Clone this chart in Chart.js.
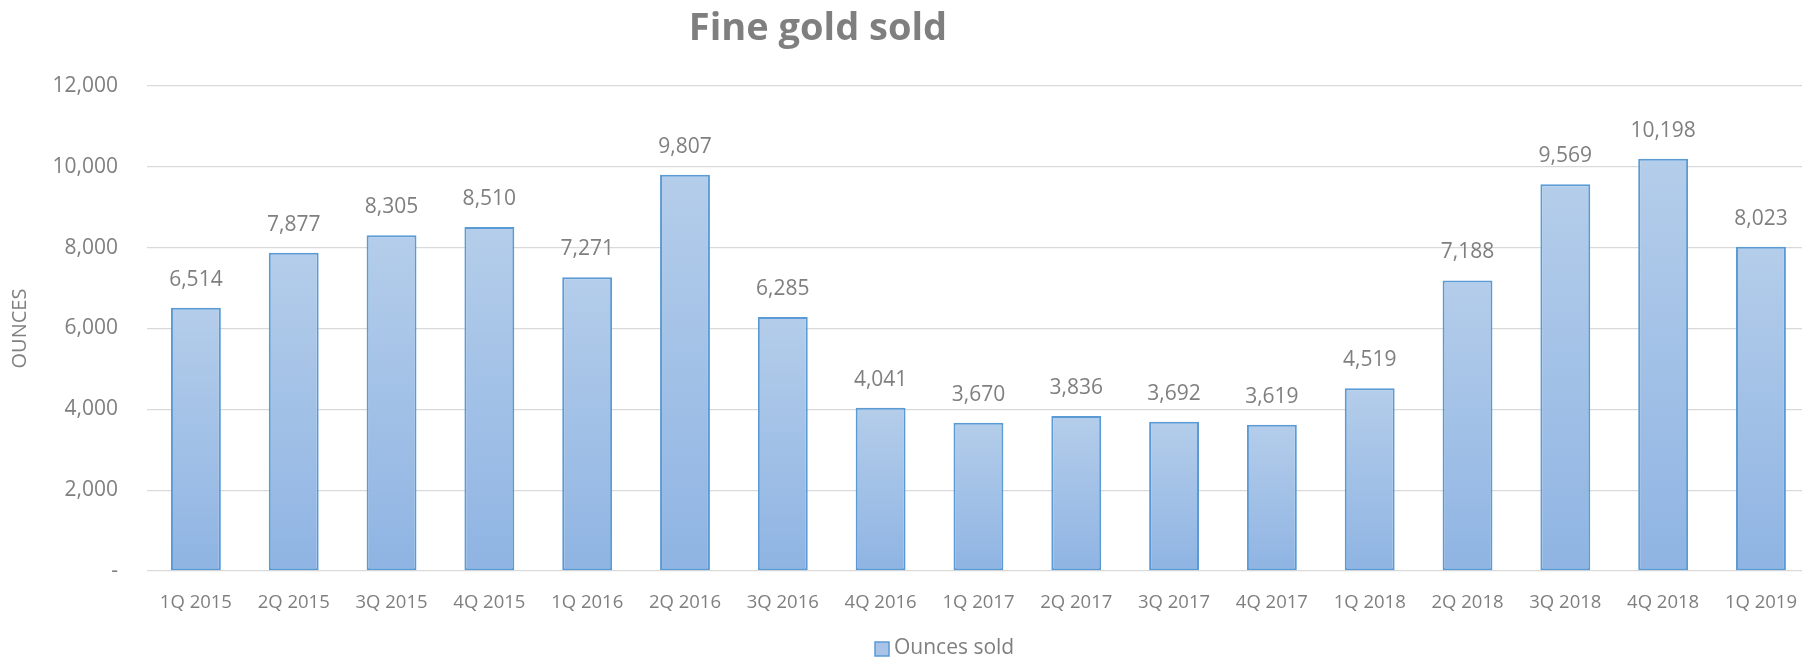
<!DOCTYPE html>
<html lang="en">
<head>
    <meta charset="UTF-8">
    <title>Fine gold sold</title>
    <script src="https://cdn.jsdelivr.net/npm/chart.js"></script>
    <style>
        html, body { margin: 0; padding: 0; background: #fff; overflow: hidden; }
        #wrap { position: absolute; left: 0; top: 0; width: 1810px; height: 658px; }
    </style>
</head>
<body>
    <div id="wrap"><canvas id="goldChart"></canvas></div>
    <script>
        const quarters = ['1Q 2015', '2Q 2015', '3Q 2015', '4Q 2015', '1Q 2016', '2Q 2016', '3Q 2016', '4Q 2016',
            '1Q 2017', '2Q 2017', '3Q 2017', '4Q 2017', '1Q 2018', '2Q 2018', '3Q 2018', '4Q 2018', '1Q 2019'];
        const ouncesSold = [6514, 7877, 8305, 8510, 7271, 9807, 6285, 4041, 3670, 3836, 3692, 3619, 4519, 7188, 9569, 10198, 8023];
        const yTicks = [0, 2000, 4000, 6000, 8000, 10000, 12000];

        const grey = '#7f7f7f';
        const fmt = v => v === 0 ? '-' : v.toLocaleString('en-US');

        // values above the bars, plus title and legend placed like the excel original
        const decorations = {
            id: 'decorations',
            afterDatasetsDraw(chart) {
                const ctx = chart.ctx;
                const meta = chart.getDatasetMeta(0);
                ctx.save();
                ctx.font = '21px "Open Sans"';
                ctx.fillStyle = grey;
                ctx.textAlign = 'center';
                ctx.textBaseline = 'middle';
                meta.data.forEach((bar, i) => {
                    ctx.fillText(fmt(ouncesSold[i]), bar.x, bar.y - 28);
                });

                // title
                ctx.font = 'bold 38px "Open Sans"';
                ctx.fillText('Fine gold sold', 818, 29);

                // legend
                ctx.fillStyle = '#a9c4e8';
                ctx.strokeStyle = '#5b9bd5';
                ctx.lineWidth = 1.5;
                ctx.fillRect(875, 642, 14, 14);
                ctx.strokeRect(875, 642, 14, 14);
                ctx.fillStyle = grey;
                ctx.textAlign = 'left';
                ctx.font = '21px "Open Sans"';
                ctx.fillText(chart.data.datasets[0].label, 894, 648);
                ctx.restore();
            }
        };

        function barFill(context) {
            const chart = context.chart;
            const area = chart.chartArea;
            if (!area || context.type !== 'data') return '#a5c2e8';
            const top = chart.scales.y.getPixelForValue(context.raw);
            const g = chart.ctx.createLinearGradient(0, top, 0, area.bottom);
            g.addColorStop(0, '#b4cdea');
            g.addColorStop(1, '#8fb4e3');
            return g;
        }

        new Chart(document.getElementById('goldChart').getContext('2d'), {
            type: 'bar',
            data: {
                labels: quarters,
                datasets: [{
                    label: 'Ounces sold',
                    data: ouncesSold,
                    backgroundColor: barFill,
                    borderColor: '#5b9bd5',
                    borderWidth: 2,
                    borderSkipped: false,
                    barPercentage: 0.51,
                    categoryPercentage: 1
                }]
            },
            options: {
                responsive: true,
                maintainAspectRatio: false,
                animation: false,
                layout: { padding: { left: 0, right: 0, top: 86, bottom: 45 } },
                scales: {
                    x: {
                        grid: { display: false },
                        border: { display: false },
                        ticks: {
                            color: grey,
                            font: { family: 'Open Sans', size: 18.5 },
                            padding: 13,
                            maxRotation: 0,
                            autoSkip: false
                        },
                        afterFit: scale => { scale.height = 42; }
                    },
                    y: {
                        min: 0,
                        max: 12000,
                        afterBuildTicks: scale => { scale.ticks = yTicks.map(v => ({ value: v })); },
                        grid: { color: '#d9d9d9', lineWidth: 1.3, drawTicks: false },
                        border: { display: false },
                        ticks: {
                            color: grey,
                            font: { family: 'Open Sans', size: 21 },
                            padding: 29,
                            callback: v => fmt(v)
                        },
                        title: {
                            display: true,
                            text: 'OUNCES',
                            color: grey,
                            font: { family: 'Open Sans', size: 20 },
                            padding: { top: 8, bottom: 0 }
                        },
                        afterFit: scale => { scale.width = 147; }
                    }
                },
                plugins: {
                    title: { display: false },
                    legend: { display: false },
                    tooltip: { enabled: false }
                }
            },
            plugins: [decorations]
        });
    </script>
</body>
</html>
